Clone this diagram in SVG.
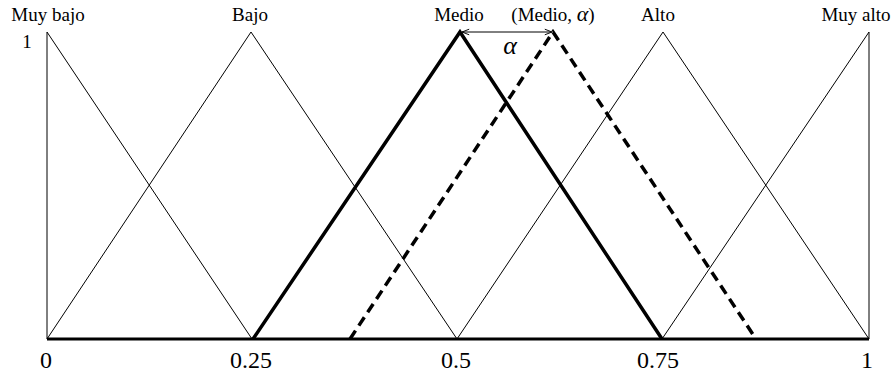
<svg xmlns="http://www.w3.org/2000/svg" width="895" height="374" viewBox="0 0 895 374">
<defs>
<style>
text{font-family:"Liberation Serif","Times New Roman",serif;fill:#000}
.lbl{font-size:19px;text-anchor:middle}
.ax{font-size:24px;text-anchor:middle}
.thin{fill:none;stroke:#000;stroke-width:1}
.thick{fill:none;stroke:#000;stroke-width:3.5;stroke-linejoin:miter}
.dash{fill:none;stroke:#000;stroke-width:3.5;stroke-dasharray:10 6}
</style>
<marker id="ah" viewBox="0 0 10 10" refX="10" refY="5" markerWidth="8" markerHeight="8" markerUnits="userSpaceOnUse" orient="auto-start-reverse">
<path d="M1,1.5 L10,5 L1,8.5" fill="none" stroke="#000" stroke-width="1.2"/>
</marker>
</defs>
<rect width="895" height="374" fill="#fff"/>
<g id="muy-bajo">
<polyline class="thin" points="47,339 47,32 252,339"/>
<text class="lbl" x="48" y="21">Muy bajo</text>
</g>
<g id="bajo">
<polyline class="thin" points="47,339 251,32 457,339"/>
<text class="lbl" x="250" y="21">Bajo</text>
</g>
<g id="medio">
<polyline class="thick" points="253,339 460,32 662,339"/>
<text class="lbl" x="459" y="21">Medio</text>
</g>
<g id="medio-alpha">
<polyline class="dash" points="350,339 553,32 756,339"/>
<text class="lbl" x="553" y="21">(Medio, <tspan font-style="italic" font-size="22">α</tspan>)</text>
</g>
<g id="alto">
<polyline class="thin" points="457,339 663,32 869,339"/>
<text class="lbl" x="658" y="21">Alto</text>
</g>
<g id="muy-alto">
<polyline class="thin" points="662,339 869,32 869,339"/>
<text class="lbl" x="856" y="21">Muy alto</text>
</g>
<g id="connectors">
<line x1="462" y1="32" x2="552" y2="32" stroke="#000" stroke-width="1" marker-start="url(#ah)" marker-end="url(#ah)"/>
<text x="510" y="54" font-size="26" font-style="italic" text-anchor="middle">α</text>
</g>
<g id="axis">
<line x1="47" y1="339" x2="869" y2="339" stroke="#000" stroke-width="3"/>
<text class="lbl" x="27" y="48">1</text>
<text class="ax" x="46" y="368">0</text>
<text class="ax" x="251" y="368">0.25</text>
<text class="ax" x="456" y="368">0.5</text>
<text class="ax" x="658" y="368">0.75</text>
<text class="ax" x="867" y="368">1</text>
</g>
</svg>
